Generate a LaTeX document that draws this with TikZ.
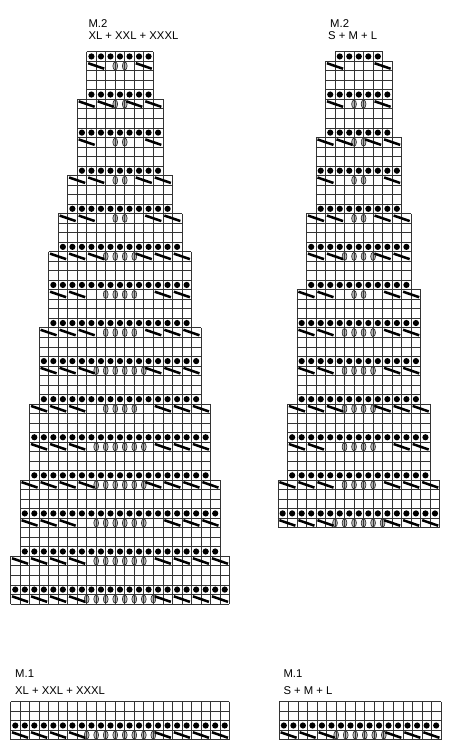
\documentclass[tikz,border=0pt]{standalone}
\usepackage{fontspec}
\setmainfont{Liberation Sans}
\def\ks{9.52}
\tikzset{
  kgrid/.style={draw=black!80, line width=0.65pt},
  kslash/.style={line width=2.5pt, black},
  koval/.style={fill=black!30, draw=black!85, line width=0.6pt},
  klabel/.style={anchor=base west, inner sep=0pt, font=\fontsize{11.3}{12}\selectfont},
}
\newcommand{\KFrame}[3]{%
  \pgfmathsetmacro{\kl}{#1-#3*\ks/2}%
  \foreach \i in {0,...,#3}{\draw[kgrid] (\kl+\i*\ks,#2) -- ++(0,\ks);}%
  \draw[kgrid] (\kl,#2) -- ++(#3*\ks,0);%
  \draw[kgrid] (\kl,#2+\ks) -- ++(#3*\ks,0);%
}
\newcommand{\KDots}[3]{%
  \KFrame{#1}{#2}{#3}%
  \foreach \i in {1,...,#3}{\fill (\kl+\i*\ks-0.5*\ks,#2+0.5*\ks) circle (3.1pt);}%
}
\newcommand{\KSlash}[6]{%
  \pgfmathsetmacro{\kl}{#1-#3*\ks/2}%
  \ifnum#5>0 \foreach \i in {#5,...,#6}{\filldraw[koval] (\kl+\i*\ks,#2+0.5*\ks) ellipse (2.4pt and 4.1pt);}\fi
  \KFrame{#1}{#2}{#3}%
  \pgfmathsetmacro{\kr}{#1+#3*\ks/2}%
  \foreach \j in {1,...,#4}{%
    \draw[kslash] (\kl+2*\j*\ks-2*\ks+1.5,#2+2) -- (\kl+2*\j*\ks-1.5,#2+7.5);%
    \draw[kslash] (\kr-2*\j*\ks+1.5,#2+2) -- (\kr-2*\j*\ks+2*\ks-1.5,#2+7.5);%
  }%
}
\newcommand{\KBlock}[6]{%
  \KSlash{#1}{#2}{#3}{#4}{#5}{#6}%
  \pgfmathsetmacro{\kyb}{#2+\ks}\KFrame{#1}{\kyb}{#3}%
  \pgfmathsetmacro{\kyc}{#2+2*\ks}\KFrame{#1}{\kyc}{#3}%
  \pgfmathsetmacro{\kyd}{#2+3*\ks}\KDots{#1}{\kyd}{#3}%
}
\begin{document}
\begin{tikzpicture}[x=1pt,y=-1pt]
\fill[white] (0,0) rectangle (450,750);
\useasboundingbox (0,0) rectangle (450,750);
% M.2 XL + XXL + XXXL
\KDots{120}{51.7}{7}
\foreach \kk/\ww/\nn/\oa/\ob in {0/7/1/3/4,1/9/2/4/5,2/9/1/4/5,3/11/2/5/6,4/13/2/6/7,5/15/3/6/9,6/15/2/6/9,7/17/3/7/10,8/17/3/6/11,9/19/3/8/11,10/19/3/7/12,11/21/4/8/13,12/21/3/8/13,13/23/4/9/14}{
  \pgfmathsetmacro{\yt}{51.7+(4*\kk+1)*\ks}
  \KBlock{120}{\yt}{\ww}{\nn}{\oa}{\ob}
}
\pgfmathsetmacro{\yt}{51.7+57*\ks}
\KSlash{120}{\yt}{23}{4}{8}{15}
% M.2 S + M + L
\KDots{358.8}{51.7}{5}
\foreach \kk/\ww/\nn/\oa/\ob in {0/7/1/0/0,1/7/1/3/4,2/9/2/4/5,3/9/1/4/5,4/11/2/5/6,5/11/2/4/7,6/13/2/6/7,7/13/2/5/8,8/13/2/5/8,9/15/3/6/9,10/15/2/6/9,11/17/3/7/10}{
  \pgfmathsetmacro{\yt}{51.7+(4*\kk+1)*\ks}
  \KBlock{358.8}{\yt}{\ww}{\nn}{\oa}{\ob}
}
\pgfmathsetmacro{\yt}{51.7+49*\ks}
\KSlash{358.8}{\yt}{17}{3}{6}{11}
% M.1 XL + XXL + XXXL
\KFrame{120}{701.7}{23}
\KFrame{120}{711.22}{23}
\KDots{120}{720.74}{23}
\KSlash{120}{730.26}{23}{4}{8}{15}
% M.1 S + M + L
\KFrame{360}{701.7}{17}
\KFrame{360}{711.22}{17}
\KDots{360}{720.74}{17}
\KSlash{360}{730.26}{17}{3}{6}{11}
% labels
\node[klabel] (m2a) at (88.3,27.5) {M.2};
\node[klabel] (m2b) at (88.3,39.3) {XL + XXL + XXXL};
\node[klabel] (m2c) at (330,27.5) {M.2};
\node[klabel] (m2d) at (328,39.3) {S + M + L};
\node[klabel] (m1a) at (15,677.3) {M.1};
\node[klabel] (m1b) at (15,694) {XL + XXL + XXXL};
\node[klabel] (m1c) at (283.3,677.3) {M.1};
\node[klabel] (m1d) at (283.3,694) {S + M + L};
\end{tikzpicture}
\end{document}
